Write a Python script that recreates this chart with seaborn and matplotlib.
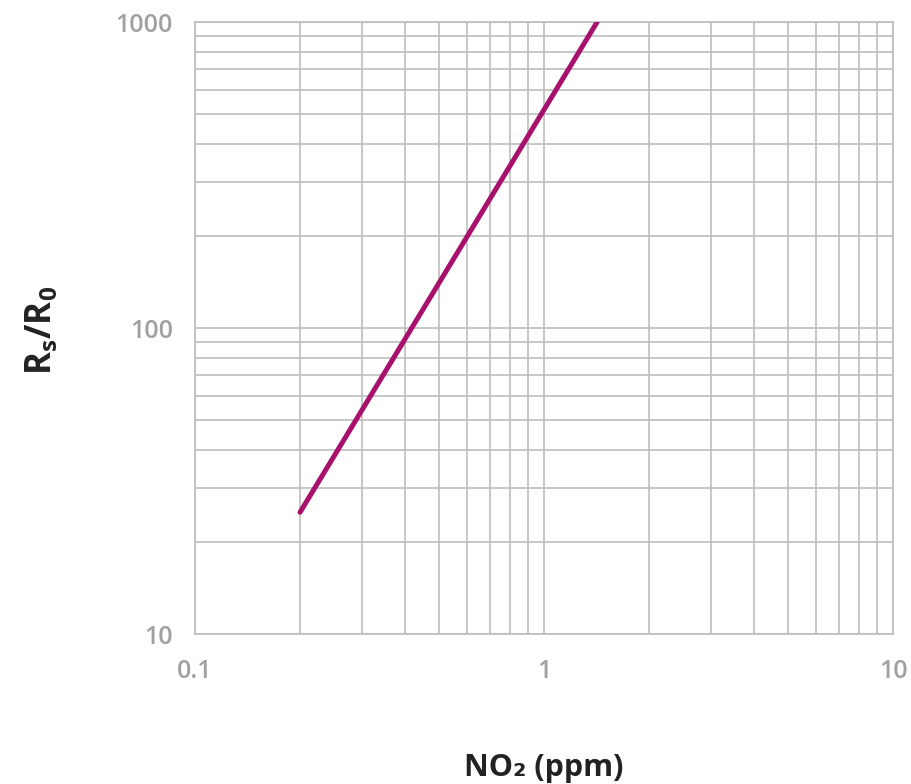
import matplotlib
matplotlib.use("Agg")
import matplotlib.pyplot as plt
import seaborn as sns
import pandas as pd
from matplotlib.ticker import LogLocator, FixedLocator, FixedFormatter, NullFormatter

# Data
no2_ppm = [0.2, 1.42]
rs_r0 = [25, 1000]
x_ticks = [0.1, 1, 10]
x_tick_labels = ["0.1", "1", "10"]
y_ticks = [10, 100, 1000]
y_tick_labels = ["10", "100", "1000"]

sns.set_theme(style="white")
plt.rcParams['font.family'] = ['Open Sans', 'DejaVu Sans']

fig = plt.figure(figsize=(9.12, 7.84), dpi=100)
ax = fig.add_axes([195/912, 150/784, (893-195)/912, (634-22)/784])

df = pd.DataFrame({"x": no2_ppm, "y": rs_r0})
sns.lineplot(data=df, x="x", y="y", ax=ax, color="#A8106E", linewidth=3.6,
             solid_capstyle="round", zorder=5)

ax.set_xscale("log")
ax.set_yscale("log")
ax.set_xlim(0.1, 10)
ax.set_ylim(10, 1000)

gridc = "#BDBDBD"
ax.xaxis.set_major_locator(FixedLocator(x_ticks))
ax.xaxis.set_major_formatter(FixedFormatter(x_tick_labels))
ax.yaxis.set_major_locator(FixedLocator(y_ticks))
ax.yaxis.set_major_formatter(FixedFormatter(y_tick_labels))
ax.xaxis.set_minor_locator(LogLocator(base=10, subs=range(2, 10)))
ax.yaxis.set_minor_locator(LogLocator(base=10, subs=range(2, 10)))
ax.xaxis.set_minor_formatter(NullFormatter())
ax.yaxis.set_minor_formatter(NullFormatter())
ax.grid(True, which="both", color=gridc, linewidth=1.2)

for s in ax.spines.values():
    s.set_color(gridc)
    s.set_linewidth(1.2)

ax.tick_params(axis="both", which="both", length=0)
ax.tick_params(axis="x", pad=18, labelsize=18, labelcolor="#A0A0A0")
ax.tick_params(axis="y", pad=16, labelsize=18, labelcolor="#A0A0A0")
for lab in ax.get_xticklabels() + ax.get_yticklabels():
    lab.set_fontweight("semibold")

ax.set_xlabel("NO\u2082 (ppm)", fontsize=22, fontweight="bold", color="#222222",
              labelpad=0, va="center")
ax.xaxis.set_label_coords(0.5, -(768-634)/612)
ax.set_ylabel("R$_\\mathregular{s}$/R$_\\mathregular{0}$", fontsize=25, fontweight="bold",
              color="#222222", labelpad=0, va="center")
ax.yaxis.set_label_coords(-(195-42)/698, (634-330)/612)

fig.savefig("out.png", dpi=100)
